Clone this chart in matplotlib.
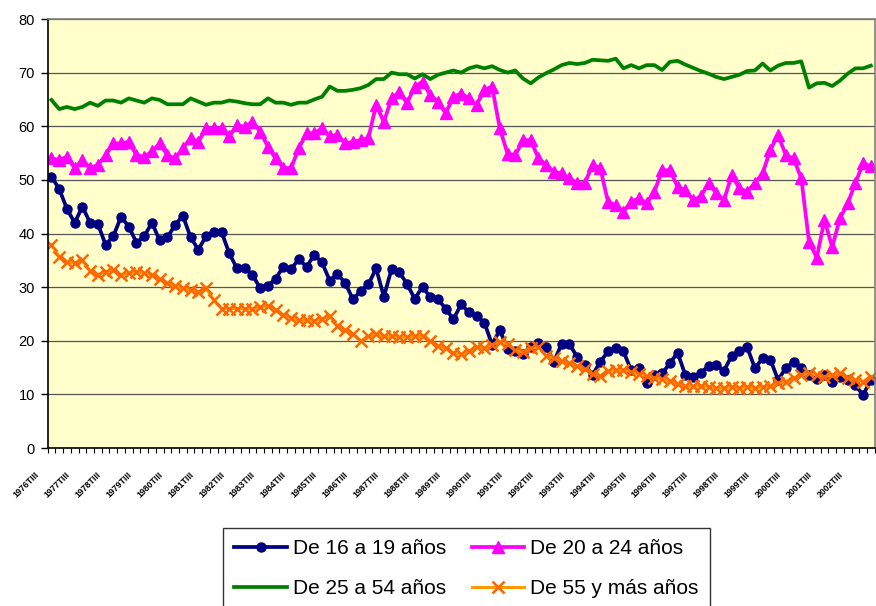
import numpy as np
import matplotlib.pyplot as plt
from matplotlib.transforms import ScaledTranslation

plt.rcParams['font.family'] = ['Liberation Sans', 'DejaVu Sans']

# quarterly series, 1976 TIII onwards
edad_16_19 = [50.6, 48.3, 44.6, 42.0, 45.0, 42.0, 41.8, 37.9, 39.5, 43.1,
              41.3, 38.3, 39.5, 42.0, 38.7, 39.3, 41.6, 43.3, 39.3, 37.0,
              39.5, 40.3, 40.3, 36.3, 33.5, 33.5, 32.3, 29.8, 30.2, 31.6,
              33.8, 33.4, 35.2, 33.8, 36.0, 34.6, 31.2, 32.4, 30.8, 27.7,
              29.3, 30.5, 33.5, 28.2, 33.4, 32.8, 30.6, 27.8, 30.1, 28.1,
              27.7, 26.0, 24.0, 26.8, 25.3, 24.6, 23.4, 19.3, 22.0, 18.5,
              18.0, 17.5, 18.9, 19.5, 18.9, 16.1, 19.4, 19.4, 17.0, 15.5,
              13.6, 16.1, 18.0, 18.6, 18.0, 14.5, 14.9, 12.1, 13.6, 13.9,
              15.8, 17.8, 13.6, 13.3, 14.0, 15.3, 15.5, 14.4, 17.2, 18.0,
              18.8, 14.9, 16.7, 16.5, 12.7, 14.9, 16.1, 14.9, 13.7, 12.8,
              13.6, 12.4, 13.3, 12.7, 11.7, 9.9, 12.7]

edad_20_24 = [54.0, 53.7, 54.3, 52.2, 53.7, 52.2, 52.8, 54.6, 56.8, 56.8,
              57.1, 54.6, 54.3, 55.3, 56.8, 54.6, 54.0, 55.9, 57.8, 57.1,
              59.6, 59.6, 59.6, 58.1, 60.2, 59.9, 60.8, 59.0, 56.2, 54.0,
              52.2, 52.2, 55.9, 58.7, 58.7, 59.6, 58.1, 58.4, 56.8, 57.1,
              57.4, 57.8, 64.0, 60.8, 65.2, 66.4, 64.3, 67.4, 68.3, 65.8,
              64.6, 62.4, 65.5, 66.1, 65.2, 64.0, 66.8, 67.4, 59.6, 54.9,
              54.6, 57.4, 57.4, 54.0, 52.8, 51.5, 51.2, 50.3, 49.4, 49.4,
              52.8, 52.2, 45.9, 45.3, 44.1, 45.9, 46.6, 45.6, 47.8, 51.8,
              51.8, 48.7, 48.1, 46.2, 46.9, 49.4, 47.5, 46.2, 50.9, 48.4,
              47.8, 49.4, 51.2, 55.6, 58.4, 54.6, 54.0, 50.3, 38.5, 35.5,
              42.5, 37.5, 42.8, 45.6, 49.4, 53.1, 52.5]

edad_25_54 = [64.9, 63.2, 63.6, 63.2, 63.6, 64.4, 63.8, 64.8, 64.8, 64.4,
              65.2, 64.8, 64.4, 65.2, 64.9, 64.1, 64.1, 64.1, 65.2, 64.6,
              64.0, 64.4, 64.4, 64.8, 64.6, 64.3, 64.1, 64.1, 65.2, 64.4,
              64.4, 64.0, 64.4, 64.4, 65.0, 65.5, 67.4, 66.6, 66.6, 66.8,
              67.1, 67.7, 68.8, 68.8, 70.0, 69.7, 69.7, 68.9, 69.7, 68.8,
              69.6, 70.0, 70.4, 70.0, 70.8, 71.2, 70.8, 71.2, 70.5, 70.0,
              70.4, 68.9, 68.0, 69.1, 69.9, 70.6, 71.4, 71.8, 71.6, 71.8,
              72.4, 72.3, 72.2, 72.6, 70.8, 71.4, 70.8, 71.4, 71.4, 70.5,
              72.0, 72.2, 71.5, 70.9, 70.3, 69.8, 69.2, 68.8, 69.2, 69.6,
              70.3, 70.4, 71.7, 70.4, 71.3, 71.8, 71.8, 72.1, 67.2, 68.0,
              68.1, 67.5, 68.5, 69.8, 70.8, 70.8, 71.3]

edad_55_mas = [37.9, 35.7, 34.7, 34.5, 35.0, 33.0, 32.3, 32.9, 33.2, 32.3,
               32.6, 32.9, 32.6, 32.3, 31.6, 30.7, 30.2, 29.8, 29.5, 29.1,
               29.8, 27.6, 26.0, 26.0, 26.0, 26.0, 25.9, 26.3, 26.5, 25.7,
               24.8, 24.3, 23.8, 23.8, 23.7, 24.1, 24.6, 22.7, 22.0, 21.3,
               19.9, 20.8, 21.2, 20.8, 20.8, 20.7, 20.7, 20.8, 20.8, 19.9,
               19.1, 18.6, 17.7, 17.5, 18.1, 18.8, 18.6, 19.3, 19.7, 19.4,
               18.2, 17.9, 18.6, 18.8, 17.2, 16.7, 16.2, 15.8, 15.3, 14.7,
               13.8, 13.5, 14.3, 14.5, 14.5, 14.2, 13.8, 13.4, 13.1, 12.8,
               12.5, 11.9, 11.5, 11.5, 11.6, 11.4, 11.1, 11.2, 11.4, 11.2,
               11.4, 11.2, 11.4, 11.5, 12.1, 12.4, 13.0, 13.6, 13.9, 13.6,
               13.3, 13.6, 13.9, 13.1, 12.7, 12.4, 13.3]

n = len(edad_16_19)
anios = list(range(1976, 1976 + 27))
etiquetas = [str(a) + "TIII" for a in anios]

x = np.arange(n)

fig = plt.figure(figsize=(8.76, 6.06), dpi=100)
ax = fig.add_axes([47.6 / 876, 158 / 606, 827.1 / 876, 429 / 606])
ax.set_facecolor('#FFFFCC')

l1, = ax.plot(x, edad_16_19, color='#000080', lw=2.7, marker='o', ms=6.5,
              label='De 16 a 19 años')
l2, = ax.plot(x, edad_20_24, color='#FF00FF', lw=2.7, marker='^', ms=9,
              label='De 20 a 24 años')
l3, = ax.plot(x, edad_25_54, color='#008000', lw=2.7,
              label='De 25 a 54 años')
l4, = ax.plot(x, edad_55_mas, color='#FF9900', lw=2.2, marker='x', ms=9,
              mec='#FF6600', mew=1.8, label='De 55 y más años')

ax.set_xlim(-0.5, n - 0.5)
ax.set_ylim(0, 80)
ax.set_yticks(range(0, 81, 10))
ax.yaxis.grid(True, color='#555555', lw=0.9)
ax.set_axisbelow(True)
ax.tick_params(axis='y', direction='out', length=5, width=1,
               labelsize=10.5, pad=4)

ax.set_xticks(x[::4])
ax.set_xticklabels(etiquetas, rotation=45, ha='right', va='top',
                   rotation_mode='anchor', fontsize=6.3, fontweight='bold')
ax.set_xticks(np.arange(n + 1) - 0.5, minor=True)
ax.tick_params(axis='x', which='major', length=0, pad=16)
ax.tick_params(axis='x', which='minor', direction='out', length=3.5, width=0.8)
for lab in ax.get_xticklabels():
    lab.set_transform(lab.get_transform() +
                      ScaledTranslation(-17 / 100, 0, fig.dpi_scale_trans))

for s in ['left', 'bottom']:
    ax.spines[s].set_color('black')
    ax.spines[s].set_linewidth(1.2)
for s in ['top', 'right']:
    ax.spines[s].set_color('#808080')
    ax.spines[s].set_linewidth(1.2)

# row-wise order like the original legend
fig.legend([l1, l3, l2, l4], [l1.get_label(), l3.get_label(),
                              l2.get_label(), l4.get_label()],
           loc='upper left', bbox_to_anchor=(223 / 876, 1 - 528 / 606),
           ncol=2, fontsize=15, frameon=True, fancybox=False,
           edgecolor='black', handlelength=2.5, handletextpad=0.3,
           columnspacing=1.25, labelspacing=1.0, borderpad=0.55,
           numpoints=1, borderaxespad=0)

fig.savefig('out.png', dpi=100)
